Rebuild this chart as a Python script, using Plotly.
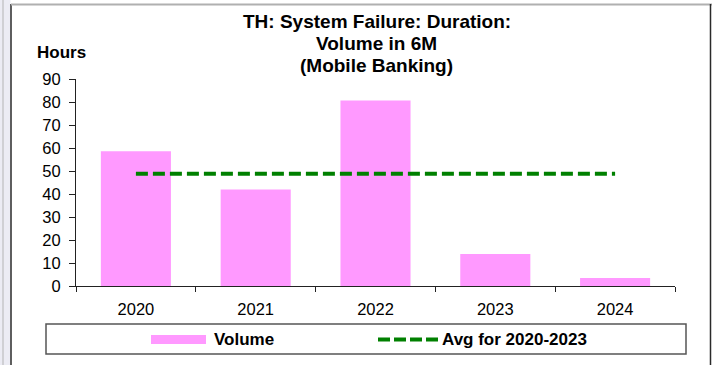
import plotly.graph_objects as go

# Data
years = ["2020", "2021", "2022", "2023", "2024"]
volume_hours = [58.6, 42.0, 80.7, 13.9, 3.5]
avg_years = ["2020", "2021", "2022", "2023"]
avg_hours = round(sum(volume_hours[:4]) / len(avg_years), 1)
y_ticks = [0, 10, 20, 30, 40, 50, 60, 70, 80, 90]

title_lines = ["TH: System Failure: Duration:", "Volume in 6M", "(Mobile Banking)"]
y_title = "Hours"
bar_name = "Volume"
avg_name = "Avg for 2020-2023"

# Canvas and plot-area geometry (pixels)
W, H = 712, 365
L, R, T, B = 76, 37, 79, 79
PW, PH = W - L - R, H - T - B

FONT = "Liberation Sans, Arial, sans-serif"
PINK = "#FF99FF"
GREEN = "#008000"


def px(x):
    return (x - L) / PW


def py(y):
    return (H - B - y) / PH


fig = go.Figure()
fig.add_trace(go.Bar(
    x=years, y=volume_hours, name=bar_name,
    marker=dict(color=PINK, line=dict(width=0)),
    width=0.585,
))
fig.add_trace(go.Scatter(
    x=years, y=[avg_hours] * len(years), name=avg_name,
    mode="lines", line=dict(color=GREEN, width=4, dash="12px,5px"),
))

shapes = []
# Frame around the chart
shapes.append(dict(type="rect", xref="paper", yref="paper",
                   x0=px(0), x1=px(10.5), y0=py(0), y1=py(H),
                   fillcolor="#ECECF4", line=dict(width=0), layer="below"))
shapes.append(dict(type="line", xref="paper", yref="paper",
                   x0=px(3), x1=px(3), y0=py(0), y1=py(H),
                   line=dict(color="#B4B4B4", width=1)))
shapes.append(dict(type="line", xref="paper", yref="paper",
                   x0=px(11), x1=px(11), y0=py(4), y1=py(H),
                   line=dict(color="#2A2A2A", width=1.5)))
shapes.append(dict(type="line", xref="paper", yref="paper",
                   x0=px(11), x1=px(W), y0=py(4.5), y1=py(4.5),
                   line=dict(color="#B0B0B0", width=2)))
shapes.append(dict(type="line", xref="paper", yref="paper",
                   x0=px(710.5), x1=px(710.5), y0=py(4), y1=py(H),
                   line=dict(color="#2A2A2A", width=1.5)))

# Legend box
shapes.append(dict(type="rect", xref="paper", yref="paper",
                   x0=px(46), x1=px(686), y0=py(324), y1=py(354),
                   line=dict(color="#555555", width=1.5)))
shapes.append(dict(type="rect", xref="paper", yref="paper",
                   x0=px(151), x1=px(206), y0=py(335), y1=py(344),
                   fillcolor=PINK, line=dict(width=0)))
shapes.append(dict(type="line", xref="paper", yref="paper",
                   x0=px(378), x1=px(438), y0=py(339.5), y1=py(339.5),
                   line=dict(color=GREEN, width=4, dash="12px,4px")))

annotations = []
for text, yc in zip(title_lines, [21.5, 43.5, 65.5]):
    annotations.append(dict(
        text=f"<b>{text}</b>", xref="paper", yref="paper",
        x=px(376.5), y=py(yc), xanchor="center", yanchor="middle",
        showarrow=False, font=dict(family=FONT, size=19, color="#000")))
annotations.append(dict(
    text=f"<b>{y_title}</b>", xref="paper", yref="paper",
    x=px(35), y=py(52.5), xanchor="left", yanchor="middle",
    showarrow=False, font=dict(family=FONT, size=17, color="#000")))
annotations.append(dict(
    text=f"<b>{bar_name}</b>", xref="paper", yref="paper",
    x=px(212), y=py(339.5), xanchor="left", yanchor="middle",
    showarrow=False, font=dict(family=FONT, size=17, color="#000")))
annotations.append(dict(
    text=f"<b>{avg_name}</b>", xref="paper", yref="paper",
    x=px(440), y=py(339.5), xanchor="left", yanchor="middle",
    showarrow=False, font=dict(family=FONT, size=17, color="#000")))

fig.update_layout(
    width=W, height=H,
    margin=dict(l=L, r=R, t=T, b=B, pad=0),
    paper_bgcolor="white", plot_bgcolor="white",
    showlegend=False,
    font=dict(family=FONT, size=16, color="#000"),
    shapes=shapes, annotations=annotations,
    xaxis=dict(type="category", categoryorder="array", categoryarray=years,
               range=[-0.5, len(years) - 0.5],
               showline=True, linecolor="#222", linewidth=1,
               ticks="outside", tickson="boundaries", ticklen=5,
               tickcolor="#222", showgrid=False, zeroline=False,
               ticklabelstandoff=8, tickfont=dict(size=16.5)),
    yaxis=dict(range=[0, 90], tickvals=y_ticks,
               showline=True, linecolor="#222", linewidth=1,
               ticks="outside", ticklen=6, tickcolor="#222",
               showgrid=False, zeroline=False,
               ticklabelstandoff=5, tickfont=dict(size=16.5)),
)

fig.write_html("out.html")
